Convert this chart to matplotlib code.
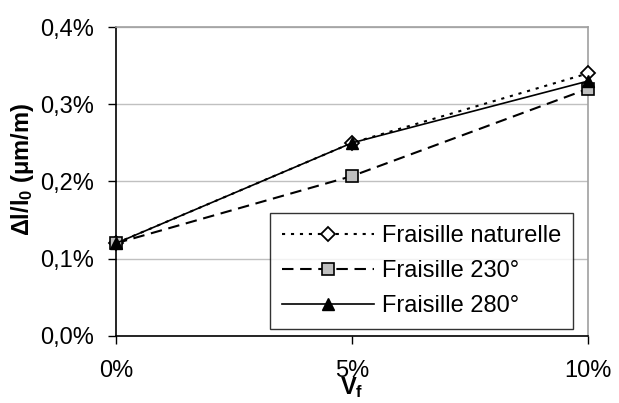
import matplotlib
matplotlib.use("Agg")
import matplotlib.pyplot as plt

plt.rcParams['font.family'] = ['Liberation Sans', 'DejaVu Sans']
plt.rcParams['mathtext.fontset'] = 'custom'
plt.rcParams['mathtext.rm'] = 'Liberation Sans'
plt.rcParams['mathtext.bf'] = 'Liberation Sans:bold'
plt.rcParams['mathtext.it'] = 'Liberation Sans:italic'

# data (Vf in %, dl/l0 in %)
vf = [0, 5, 10]
naturelle = [0.12, 0.25, 0.34]
f230 = [0.12, 0.207, 0.32]
f280 = [0.12, 0.25, 0.33]

xticks = [0, 5, 10]
xticklabels = ['0%', '5%', '10%']
yticks = [0.0, 0.1, 0.2, 0.3, 0.4]
yticklabels = ['0,0%', '0,1%', '0,2%', '0,3%', '0,4%']

fig = plt.figure(figsize=(6.19, 4.03), dpi=100)
ax = fig.add_axes([0.1874, 0.1663, 0.7626, 0.7667])

ax.plot(vf, naturelle, color='black', lw=1.5, linestyle=(0, (1.5, 2.8)),
        marker='D', markersize=7, markerfacecolor='white', markeredgecolor='black',
        markeredgewidth=1.3, label='Fraisille naturelle', clip_on=False, zorder=3)
ax.plot(vf, f230, color='black', lw=1.5, linestyle=(0, (5.5, 3.2)),
        marker='s', markersize=9, markerfacecolor='#c0c0c0', markeredgecolor='black',
        markeredgewidth=1.2, label='Fraisille 230°', clip_on=False, zorder=4)
ax.plot(vf, f280, color='black', lw=1.2, linestyle='-',
        marker='^', markersize=9, markerfacecolor='black', markeredgecolor='black',
        label='Fraisille 280°', clip_on=False, zorder=5)

ax.set_xlim(0, 10)
ax.set_ylim(0, 0.4)
ax.set_xticks(xticks)
ax.set_xticklabels(xticklabels)
ax.set_yticks(yticks)
ax.set_yticklabels(yticklabels)
ax.tick_params(axis='both', direction='out', length=6, width=1, labelsize=17, color='black')
ax.tick_params(axis='y', pad=10)
ax.tick_params(axis='x', pad=11)

ax.yaxis.grid(True, color='#c0c0c0', lw=1)
ax.set_axisbelow(True)
for s in ['left', 'bottom']:
    ax.spines[s].set_color('black')
    ax.spines[s].set_linewidth(1.2)
for s in ['right', 'top']:
    ax.spines[s].set_color('#a0a0a0')
    ax.spines[s].set_linewidth(1.2)

ax.set_ylabel(r'$\mathbf{\Delta l/l_0\ (\mu m/m)}$', fontsize=17)
ax.yaxis.set_label_coords(-0.17, 0.54)
ax.set_xlabel(r'$\mathbf{V_f}$', fontsize=17)
ax.xaxis.set_label_coords(0.5, -0.125)

leg = ax.legend(loc='lower right', bbox_to_anchor=(0.968, 0.023), fontsize=17,
                frameon=True, fancybox=False, edgecolor='black', handlelength=3.9,
                borderpad=0.5, labelspacing=0.55, handletextpad=0.35, borderaxespad=0)
leg.get_frame().set_linewidth(1.0)

fig.savefig('out.png', dpi=100)
